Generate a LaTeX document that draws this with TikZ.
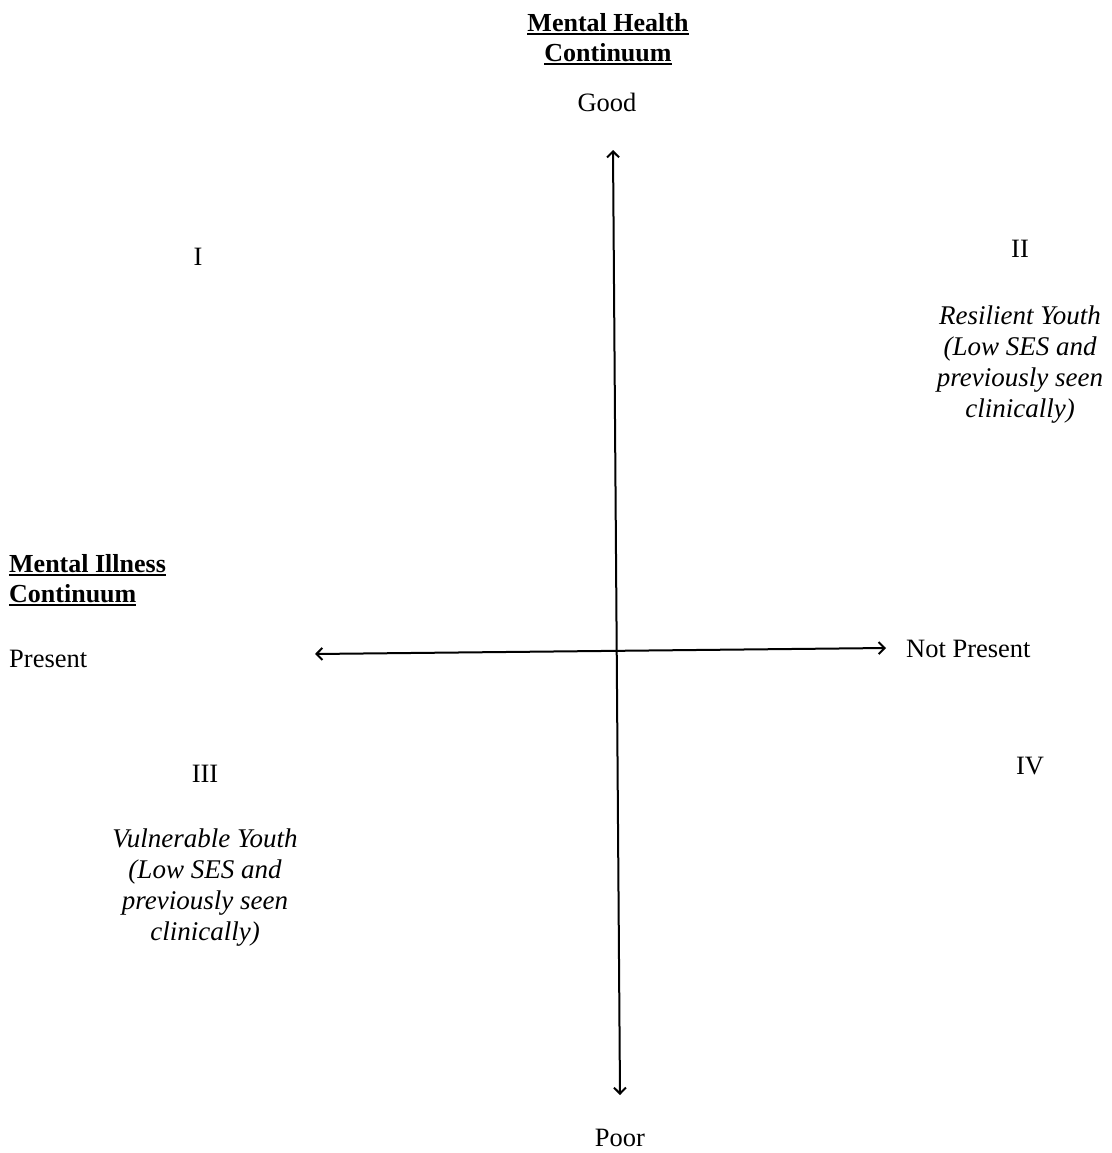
\documentclass[tikz,border=0pt]{standalone}
\usepackage{fontspec}
\setmainfont{Liberation Serif}
\usetikzlibrary{arrows.meta}
\newcommand\myul[1]{\vtop{\hbox{#1}\kern1.5pt\hrule height 1.8pt}}
\begin{document}
\begin{tikzpicture}[x=1pt,y=-1pt,
  txt/.style={inner sep=0pt, font=\fontsize{26.5}{30}\selectfont},
  head/.style={inner sep=0pt, font=\fontsize{26}{30}\selectfont\bfseries},
  note/.style={inner sep=0pt, align=center, font=\fontsize{27}{31}\selectfont\itshape},
  axis/.style={line width=2pt, {Straight Barb[length=6pt,width=12pt]}-{Straight Barb[length=6pt,width=12pt]}}]
\useasboundingbox (0,0) rectangle (1111,1153);
% axes
\coordinate (top) at (613,150);
\coordinate (bottom) at (620,1095);
\coordinate (left) at (315,654);
\coordinate (right) at (886,648);
\draw[axis] (top) -- (bottom);
\draw[axis] (left) -- (right);
% vertical axis labels
\node[head, align=center, anchor=north] (mh) at (608,13) {\myul{Mental Health}\\\myul{Continuum}};
\node[txt, anchor=base] (good) at (607,112) {Good};
\node[txt, anchor=base] (poor) at (620,1146) {Poor};
% horizontal axis labels
\node[head, align=left, anchor=north west] (mi) at (9,554) {\myul{Mental Illness}\\\myul{Continuum}};
\node[txt, anchor=base west] (present) at (9,667) {Present};
\node[txt, anchor=base west] (notpresent) at (906,657) {Not Present};
% quadrants
\node[txt, anchor=base] (q1) at (198,265) {I};
\node[txt, anchor=base] (q2) at (1020,257) {II};
\node[txt, anchor=base] (q3) at (205,782) {III};
\node[txt, anchor=base] (q4) at (1030,774) {IV};
\node[note, anchor=north] (res) at (1020,306) {Resilient Youth\\(Low SES and\\previously seen\\clinically)};
\node[note, anchor=north] (vul) at (205,829) {Vulnerable Youth\\(Low SES and\\previously seen\\clinically)};
\end{tikzpicture}
\end{document}
